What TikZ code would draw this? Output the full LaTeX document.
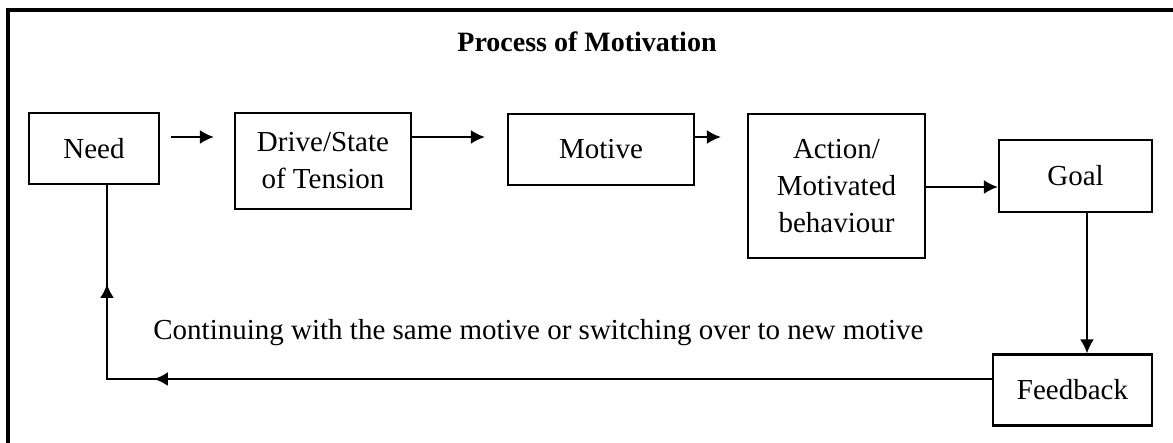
\documentclass[tikz,border=0pt]{standalone}
\usepackage{fontspec}
\setmainfont{Liberation Serif}
\usetikzlibrary{arrows.meta,calc,decorations.markings}

\begin{document}
\begin{tikzpicture}[x=0.5pt,y=-0.5pt,
  every node/.style={font=\fontsize{14.5}{18.5}\selectfont},
  stage/.style={draw, line width=1.1pt, align=center, inner sep=0pt},
  arr/.style={line width=1.1pt, -{Latex[length=7pt,width=7pt]}},
  link/.style={line width=1.1pt},
  tipat/.style={postaction={decorate, decoration={markings,
      mark=at position #1 with {\arrow{Latex[length=7pt,width=7pt]}}}}}
]
  % canvas and frame
  \useasboundingbox (0,0) rectangle (1173,443);
  \draw[line width=1.8pt] (1173,10) -- (8,10) -- (8,443);

  % title
  \node[anchor=base, font=\fontsize{14}{17}\selectfont\bfseries] (title) at (587,52) {Process of Motivation};

  % stages
  \node[stage, minimum width=65pt,   minimum height=35.5pt] (need)   at (94,148.5)   {Need};
  \node[stage, minimum width=88pt,   minimum height=48pt]   (drive)  at (323,161)    {Drive/State\\of Tension};
  \node[stage, minimum width=93pt,   minimum height=35.5pt] (motive) at (601,149.5)  {Motive};
  \node[stage, minimum width=88.5pt, minimum height=72pt]   (action) at (836.5,186)  {Action/\\Motivated\\behaviour};
  \node[stage, minimum width=76.5pt, minimum height=36pt]   (goal)   at (1075.5,176) {Goal};
  \node[stage, minimum width=79.5pt, minimum height=35.5pt] (fb)     at (1072.5,390) {Feedback};

  % forward chain
  \draw[arr] ([shift={(11,-11.5)}]need.east) -- ([xshift=-10]drive.west |- 0,137);
  \draw[arr] (drive.east |- 0,137) -- ([xshift=-11]motive.west |- 0,137);
  \draw[arr] (motive.east |- 0,137) -- ([xshift=-13]action.west |- 0,137);
  \draw[arr] (action.east |- 0,187) -- (goal.west |- 0,187);
  \draw[arr] (goal.south -| 1087,0) -- (fb.north -| 1087,0);

  % feedback loop back to the need
  \coordinate (corner) at (107,379);
  \draw[link, tipat=419pt, tipat=490pt] (fb.west |- corner) -- (corner) -- (need.south -| corner);

  % loop label
  \node[anchor=base west, inner sep=0pt] (loop) at (153,340) {Continuing with the same motive or switching over to new motive};
\end{tikzpicture}
\end{document}
